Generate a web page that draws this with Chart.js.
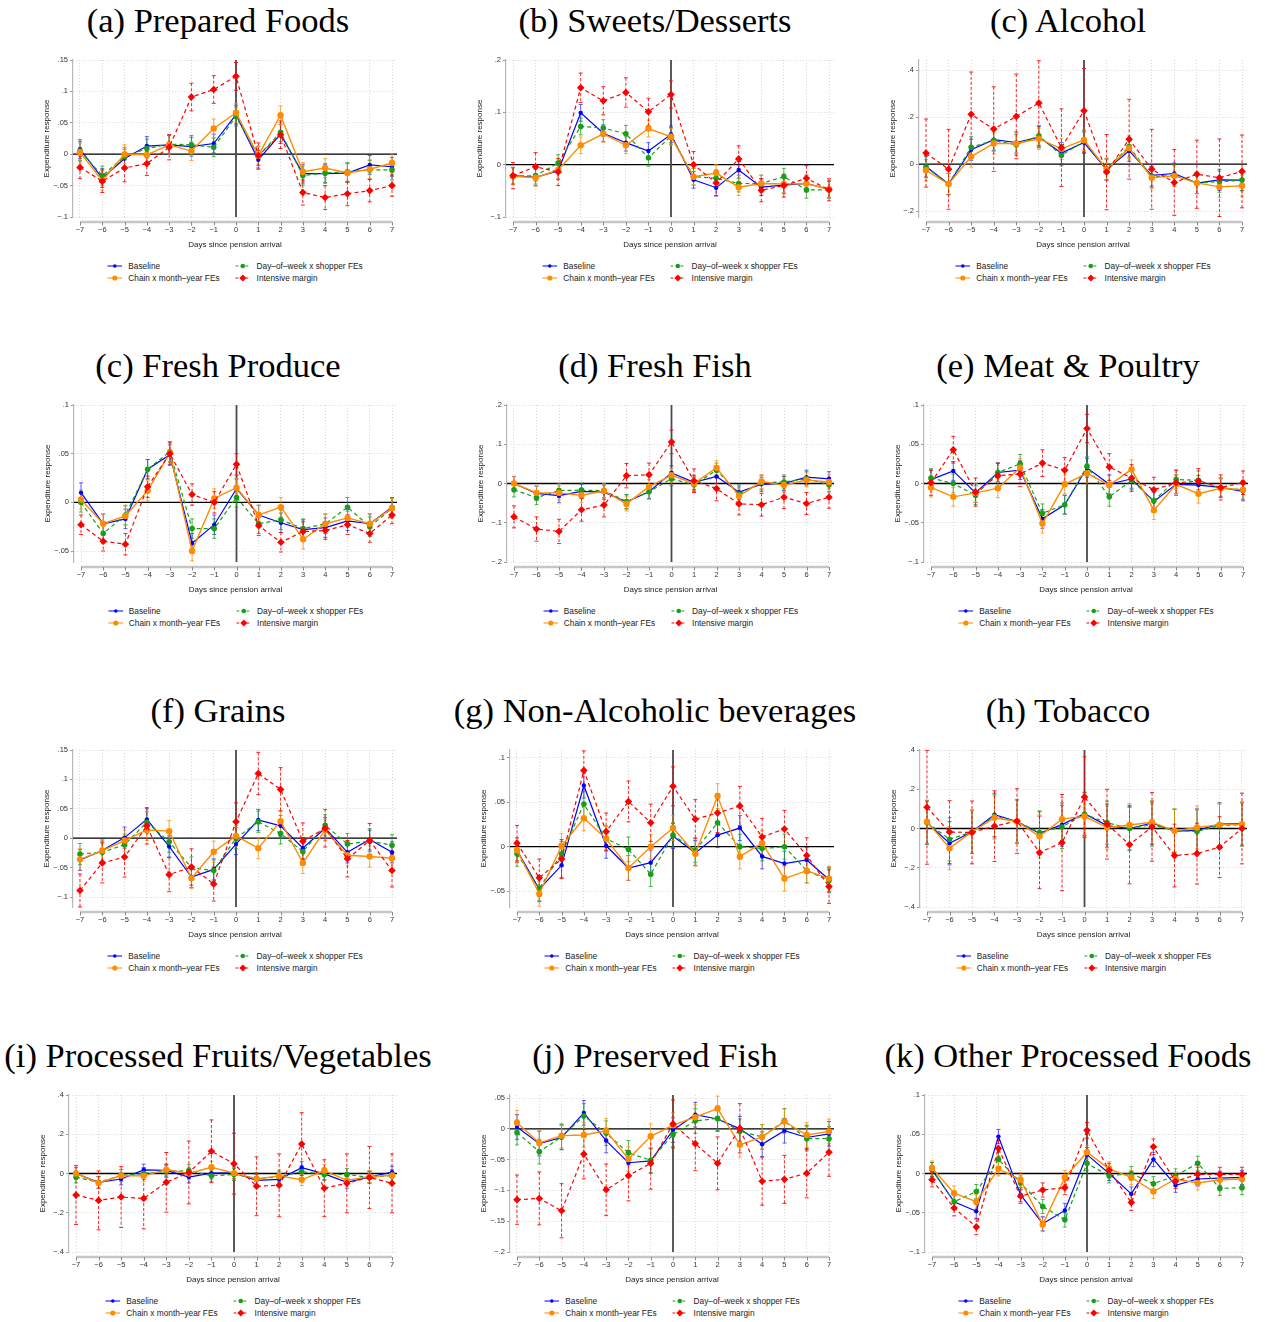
<!DOCTYPE html>
<html>
<head>
<meta charset="utf-8">
<script src="https://cdn.jsdelivr.net/npm/chart.js@4"></script>
<style>
  body { margin: 0; background: #fff; width: 1265px; height: 1322px; position: relative; overflow: hidden;
         font-family: "Liberation Sans", Arial, Helvetica, sans-serif; }
  .ttl { position: absolute; font-family: "Liberation Serif", "Times New Roman", serif; font-size: 34.5px;
         line-height: 38px; white-space: nowrap; transform: translateX(-50%); color: #000; }
  canvas { position: absolute; }
  .leg { position: absolute; font-size: 8.3px; color: #222; display: grid; grid-template-columns: auto auto;
         column-gap: 16px; row-gap: 0; transform: translateX(-50%); }
  .leg span { display: flex; align-items: center; white-space: nowrap; height: 12px; }
  .leg svg { margin-right: 6px; }
</style>
</head>
<body>
<script>
// x positions (days since arrival)
const days = [-7, -6, -5, -4, -3, -2, -1, 0, 1, 2, 3, 4, 5, 6, 7];
const seriesNames = ['Baseline', 'Day\u2013of\u2013week x shopper FEs', 'Chain x month\u2013year FEs', 'Intensive margin'];

// (a) Prepared Foods
const prepBase  = [0.008,-0.038,-0.007,0.013,0.015,0.012,0.017,0.063,-0.009,0.032,-0.031,-0.031,-0.030,-0.017,-0.020];
const prepDow   = [0.005,-0.034,-0.004,0.009,0.016,0.015,0.011,0.060,-0.003,0.035,-0.034,-0.030,-0.028,-0.025,-0.025];
const prepChain = [0.003,-0.042,0.000,-0.001,0.015,0.005,0.041,0.066,-0.002,0.062,-0.028,-0.022,-0.030,-0.024,-0.014];
const prepInt   = [-0.021,-0.043,-0.022,-0.015,0.011,0.091,0.103,0.124,-0.002,0.031,-0.061,-0.069,-0.063,-0.058,-0.050];
const prepIntErr = [0.018,0.018,0.022,0.019,0.020,0.022,0.022,0.022,0.020,0.022,0.020,0.019,0.019,0.018,0.017];

// (b) Sweets/Desserts
const sweetBase  = [-0.021,-0.024,-0.012,0.099,0.060,0.042,0.026,0.058,-0.029,-0.044,-0.010,-0.043,-0.039,-0.036,-0.047];
const sweetDow   = [-0.022,-0.021,0.003,0.073,0.070,0.059,0.013,0.055,-0.023,-0.026,-0.036,-0.036,-0.023,-0.048,-0.048];
const sweetChain = [-0.022,-0.025,-0.010,0.037,0.059,0.037,0.069,0.053,-0.023,-0.016,-0.043,-0.036,-0.037,-0.036,-0.047];
const sweetInt   = [-0.021,-0.004,-0.014,0.147,0.122,0.138,0.101,0.134,0.000,-0.035,0.011,-0.049,-0.040,-0.026,-0.048];
const sweetIntErr = [0.025,0.027,0.026,0.028,0.027,0.028,0.026,0.026,0.025,0.024,0.025,0.022,0.022,0.024,0.021];

// (c) Alcohol
const alcBase  = [-0.010,-0.085,0.061,0.104,0.092,0.115,0.047,0.092,-0.024,0.057,-0.048,-0.040,-0.081,-0.067,-0.068];
const alcDow   = [-0.013,-0.085,0.072,0.100,0.082,0.120,0.038,0.097,-0.020,0.075,-0.055,-0.048,-0.080,-0.075,-0.068];
const alcChain = [-0.026,-0.085,0.032,0.088,0.088,0.108,0.065,0.103,-0.023,0.068,-0.058,-0.050,-0.080,-0.097,-0.092];
const alcInt   = [0.047,-0.022,0.212,0.149,0.203,0.260,0.070,0.227,-0.034,0.106,-0.022,-0.078,-0.043,-0.058,-0.031];
const alcIntErr = [0.145,0.170,0.180,0.180,0.180,0.180,0.165,0.180,0.160,0.170,0.170,0.140,0.145,0.165,0.155];

// (c) Fresh Produce
const prodBase  = [0.010,-0.022,-0.017,0.034,0.049,-0.042,-0.023,0.014,-0.013,-0.021,-0.028,-0.026,-0.019,-0.022,-0.005];
const prodDow   = [0.000,-0.032,-0.013,0.034,0.052,-0.027,-0.027,0.005,-0.022,-0.018,-0.027,-0.022,-0.005,-0.025,-0.006];
const prodChain = [0.003,-0.022,-0.014,0.012,0.051,-0.050,0.004,0.015,-0.013,-0.005,-0.038,-0.022,-0.016,-0.022,-0.006];
const prodInt   = [-0.023,-0.040,-0.043,0.016,0.050,0.008,0.000,0.039,-0.024,-0.041,-0.030,-0.029,-0.023,-0.032,-0.013];
const prodIntErr = [0.010,0.010,0.011,0.011,0.012,0.011,0.011,0.011,0.010,0.010,0.010,0.009,0.010,0.009,0.009];

// (d) Fresh Fish
const fishBase  = [0.000,-0.025,-0.031,-0.020,-0.022,-0.047,-0.021,0.027,0.003,0.018,-0.022,-0.002,0.000,0.016,0.012];
const fishDow   = [-0.016,-0.036,-0.018,-0.017,-0.018,-0.046,-0.021,0.012,-0.003,0.034,-0.027,0.002,0.004,0.012,-0.003];
const fishChain = [0.000,-0.024,-0.024,-0.030,-0.019,-0.052,-0.008,0.021,0.000,0.040,-0.032,0.005,-0.004,0.009,0.004];
const fishInt   = [-0.085,-0.116,-0.122,-0.067,-0.055,0.020,0.022,0.106,0.007,-0.013,-0.052,-0.054,-0.035,-0.051,-0.035];
const fishIntErr = [0.028,0.031,0.031,0.029,0.030,0.031,0.030,0.030,0.030,0.031,0.028,0.029,0.029,0.028,0.028];

// (e) Meat & Poultry
const meatBase  = [0.005,0.016,-0.012,0.014,0.017,-0.045,-0.027,0.020,-0.001,0.006,-0.023,-0.001,-0.002,-0.005,-0.010];
const meatDow   = [0.007,0.000,-0.015,0.014,0.025,-0.038,-0.027,0.022,-0.017,0.004,-0.022,0.005,0.004,-0.006,-0.008];
const meatChain = [-0.005,-0.017,-0.012,-0.006,0.020,-0.051,-0.001,0.013,-0.002,0.018,-0.034,-0.001,-0.013,-0.006,-0.008];
const meatInt   = [0.001,0.043,-0.011,0.010,0.012,0.026,0.017,0.070,0.021,0.007,-0.008,0.001,0.003,-0.005,0.001];
const meatIntErr = [0.016,0.017,0.018,0.016,0.016,0.017,0.016,0.018,0.017,0.017,0.016,0.016,0.016,0.016,0.015];

// (f) Grains
const grainBase  = [-0.037,-0.021,0.001,0.032,-0.014,-0.066,-0.053,-0.010,0.031,0.021,-0.017,0.017,-0.024,-0.002,-0.024];
const grainDow   = [-0.027,-0.024,-0.011,0.027,-0.006,-0.050,-0.055,0.000,0.028,0.008,-0.023,0.022,-0.010,-0.005,-0.012];
const grainChain = [-0.036,-0.021,-0.004,0.014,0.012,-0.068,-0.023,0.004,-0.017,0.029,-0.042,0.014,-0.029,-0.031,-0.034];
const grainInt   = [-0.089,-0.042,-0.032,0.021,-0.062,-0.049,-0.078,0.028,0.110,0.083,-0.005,0.017,-0.035,-0.004,-0.055];
const grainIntErr = [0.028,0.034,0.034,0.031,0.029,0.031,0.029,0.032,0.036,0.037,0.031,0.032,0.031,0.029,0.028];

// (g) Non-Alcoholic beverages
const bevBase  = [-0.004,-0.048,-0.021,0.069,0.001,-0.024,-0.018,0.012,-0.007,0.013,0.021,-0.011,-0.019,-0.015,-0.037];
const bevDow   = [-0.008,-0.047,-0.008,0.048,0.009,-0.003,-0.031,0.013,-0.004,0.027,0.000,-0.002,0.000,-0.027,-0.038];
const bevChain = [-0.004,-0.053,0.001,0.032,0.009,-0.024,0.000,0.021,-0.008,0.057,-0.011,0.004,-0.036,-0.027,-0.036];
const bevInt   = [0.004,-0.035,-0.014,0.086,0.017,0.051,0.027,0.068,0.031,0.038,0.046,0.011,0.020,-0.010,-0.045];
const bevIntErr = [0.020,0.021,0.022,0.022,0.021,0.023,0.021,0.022,0.022,0.022,0.022,0.021,0.021,0.020,0.019];

// (h) Tobacco
const tobBase  = [0.030,-0.075,-0.017,0.070,0.036,-0.025,0.020,0.075,0.015,0.000,0.028,-0.013,-0.010,0.022,0.025];
const tobDow   = [0.030,-0.055,-0.017,0.062,0.036,-0.020,0.008,0.072,0.030,0.000,0.020,-0.010,-0.015,0.015,0.020];
const tobChain = [0.035,-0.100,-0.017,0.055,0.036,-0.040,0.048,0.062,0.005,0.018,0.032,-0.012,0.005,0.020,0.022];
const tobInt   = [0.108,-0.018,-0.020,0.012,0.038,-0.122,-0.072,0.160,0.022,-0.082,0.008,-0.138,-0.128,-0.095,0.000];
const tobIntErr = [0.290,0.160,0.160,0.180,0.165,0.185,0.245,0.205,0.178,0.200,0.175,0.160,0.155,0.155,0.180];

// (i) Processed Fruits/Vegetables
const pfvBase  = [0.000,-0.045,-0.028,0.018,0.016,-0.018,0.002,0.003,-0.035,-0.030,0.030,-0.002,-0.045,-0.018,0.007];
const pfvDow   = [-0.018,-0.045,-0.010,0.000,0.010,0.015,-0.012,-0.005,-0.025,-0.018,0.010,-0.005,-0.005,-0.020,-0.010];
const pfvChain = [0.000,-0.048,-0.010,-0.012,0.020,0.000,0.032,0.002,-0.028,-0.012,-0.032,0.015,-0.035,-0.015,-0.010];
const pfvInt   = [-0.110,-0.137,-0.120,-0.127,-0.045,0.005,0.113,0.050,-0.065,-0.060,0.150,-0.075,-0.050,-0.020,-0.050];
const pfvIntErr = [0.150,0.150,0.155,0.155,0.152,0.160,0.160,0.155,0.150,0.160,0.160,0.145,0.150,0.158,0.150];

// (j) Preserved Fish
const pfBase  = [0.003,-0.024,-0.014,0.026,-0.019,-0.055,-0.052,-0.002,0.023,0.016,0.000,-0.025,-0.003,-0.014,-0.008];
const pfDow   = [-0.006,-0.037,-0.013,0.021,-0.007,-0.039,-0.051,-0.009,0.013,0.017,-0.004,-0.013,0.013,-0.016,-0.016];
const pfChain = [0.010,-0.023,-0.011,-0.010,-0.003,-0.049,-0.012,0.006,0.019,0.033,-0.026,-0.013,0.012,-0.010,-0.004];
const pfInt   = [-0.115,-0.113,-0.133,-0.041,-0.099,-0.076,-0.056,0.008,-0.024,-0.056,0.001,-0.085,-0.082,-0.072,-0.038];
const pfIntErr = [0.040,0.043,0.044,0.040,0.042,0.041,0.042,0.039,0.044,0.043,0.040,0.039,0.039,0.040,0.039];

// (k) Other Processed Foods
const opBase  = [0.005,-0.036,-0.048,0.047,-0.027,-0.064,-0.047,0.024,0.000,-0.026,0.018,-0.015,-0.007,-0.006,-0.005];
const opDow   = [0.005,-0.036,-0.023,0.018,-0.012,-0.042,-0.059,0.013,-0.003,0.000,-0.013,-0.003,0.013,-0.019,-0.018];
const opChain = [0.007,-0.025,-0.036,0.006,-0.008,-0.065,-0.005,0.027,0.006,-0.005,-0.023,-0.007,-0.012,-0.008,-0.007];
const opInt   = [-0.008,-0.044,-0.068,0.032,-0.029,-0.021,-0.018,0.055,0.004,-0.037,0.034,-0.010,-0.001,-0.001,-0.001];
const opIntErr = [0.009,0.010,0.010,0.010,0.009,0.009,0.009,0.010,0.009,0.010,0.010,0.009,0.009,0.009,0.009];

// typical CI half-width of the three other specifications, one per panel
const otherErr = [0.015, 0.016, 0.045, 0.010, 0.018, 0.012, 0.018, 0.014, 0.110, 0.030, 0.020, 0.009];

// y tick labels
const ticksA = [-0.1, -0.05, 0, 0.05, 0.1, 0.15];
const ticksB = [-0.1, 0, 0.1, 0.2];
const ticksC = [-0.2, 0, 0.2, 0.4];
const ticksD = [-0.05, 0, 0.05, 0.1];
const ticksE = [-0.2, -0.1, 0, 0.1, 0.2];
const ticksF = [-0.1, -0.05, 0, 0.05, 0.1];
const ticksG = [-0.4, -0.2, 0, 0.2, 0.4];
const ticksH = [-0.2, -0.15, -0.1, -0.05, 0, 0.05];

const panels = [
  { title: '(a) Prepared Foods', s: [prepBase, prepDow, prepChain, prepInt], ie: prepIntErr, yr: [-0.1, 0.15], ticks: ticksA },
  { title: '(b) Sweets/Desserts', s: [sweetBase, sweetDow, sweetChain, sweetInt], ie: sweetIntErr, yr: [-0.1, 0.2], ticks: ticksB },
  { title: '(c) Alcohol', s: [alcBase, alcDow, alcChain, alcInt], ie: alcIntErr, yr: [-0.225, 0.443], ticks: ticksC },
  { title: '(c) Fresh Produce', s: [prodBase, prodDow, prodChain, prodInt], ie: prodIntErr, yr: [-0.0613, 0.1], ticks: ticksD },
  { title: '(d) Fresh Fish', s: [fishBase, fishDow, fishChain, fishInt], ie: fishIntErr, yr: [-0.2, 0.2], ticks: ticksE },
  { title: '(e) Meat & Poultry', s: [meatBase, meatDow, meatChain, meatInt], ie: meatIntErr, yr: [-0.1, 0.1], ticks: ticksF },
  { title: '(f) Grains', s: [grainBase, grainDow, grainChain, grainInt], ie: grainIntErr, yr: [-0.117, 0.15], ticks: ticksA },
  { title: '(g) Non-Alcoholic beverages', s: [bevBase, bevDow, bevChain, bevInt], ie: bevIntErr, yr: [-0.068, 0.109], ticks: ticksD },
  { title: '(h) Tobacco', s: [tobBase, tobDow, tobChain, tobInt], ie: tobIntErr, yr: [-0.4, 0.4], ticks: ticksG },
  { title: '(i) Processed Fruits/Vegetables', s: [pfvBase, pfvDow, pfvChain, pfvInt], ie: pfvIntErr, yr: [-0.4, 0.4], ticks: ticksG },
  { title: '(j) Preserved Fish', s: [pfBase, pfDow, pfChain, pfInt], ie: pfIntErr, yr: [-0.2, 0.055], ticks: ticksH },
  { title: '(k) Other Processed Foods', s: [opBase, opDow, opChain, opInt], ie: opIntErr, yr: [-0.1, 0.1], ticks: ticksF }
];

// pixel positions of day -7 and day 7 in each panel
const xSpan = [[80, 392], [513, 829], [926, 1242], [81, 392], [514, 829], [931, 1243],
               [80, 392], [517, 829], [927, 1242], [76, 392], [517, 829], [932, 1242]];
const titleCenter = [218, 655, 1068];

const styles = [
  { color: '#0000ff', err: 'rgba(40,40,255,0.75)', dash: [], width: 1.2, r: 2.2, shape: 'circle', order: 3 },
  { color: '#17a017', err: 'rgba(23,160,23,0.75)', dash: [4, 3], width: 1.2, r: 2.8, shape: 'circle', order: 2 },
  { color: '#ff8c00', err: 'rgba(255,140,0,0.75)', dash: [], width: 1.4, r: 3.2, shape: 'circle', order: 1 },
  { color: '#ff0000', err: 'rgba(255,0,0,0.85)', dash: [4, 3], width: 1.2, r: 3.8, shape: 'rectRot', order: 0 }
];

Chart.defaults.font.family = '"Liberation Sans", Arial, Helvetica, sans-serif';

const fmtY = v => {
  if (Math.abs(v) < 1e-9) return '0';
  return (v < 0 ? '\u2212' : '') + String(Math.abs(v)).replace(/^0/, '');
};
const fmtX = v => (v < 0 ? '\u2212' + (-v) : String(v));

const stataPlot = {
  id: 'stataPlot',
  beforeDatasetsDraw(chart) {
    const { ctx, chartArea: a, scales: { x, y } } = chart;
    ctx.save();
    // x axis bar below the plot region
    const xl = x.getPixelForValue(days[0]), xr = x.getPixelForValue(days[days.length - 1]);
    const ya = a.bottom + 5;
    ctx.strokeStyle = '#c6c6c6'; ctx.lineWidth = 2.5;
    ctx.beginPath(); ctx.moveTo(xl, ya); ctx.lineTo(xr, ya); ctx.stroke();
    ctx.strokeStyle = '#888'; ctx.lineWidth = 1;
    days.forEach(d => {
      const px = Math.round(x.getPixelForValue(d)) + 0.5;
      ctx.beginPath(); ctx.moveTo(px, ya); ctx.lineTo(px, ya + 3.5); ctx.stroke();
    });
    // reference lines at zero
    const y0 = y.getPixelForValue(0), x0 = x.getPixelForValue(0);
    ctx.strokeStyle = '#000'; ctx.lineWidth = 1.3;
    ctx.beginPath(); ctx.moveTo(a.left, y0); ctx.lineTo(a.right, y0); ctx.stroke();
    ctx.strokeStyle = '#4a4a4a'; ctx.lineWidth = 1.8;
    ctx.beginPath(); ctx.moveTo(x0, a.top); ctx.lineTo(x0, a.bottom); ctx.stroke();
    // confidence intervals
    ctx.beginPath(); ctx.rect(a.left, a.top - 2, a.right - a.left, a.bottom - a.top + 4); ctx.clip();
    chart.data.datasets.forEach((ds, i) => {
      const meta = chart.getDatasetMeta(i);
      ctx.strokeStyle = ds.errColor; ctx.lineWidth = 1;
      meta.data.forEach((pt, j) => {
        const v = ds.data[j].y;
        const e = Array.isArray(ds.errs) ? ds.errs[j] : ds.errs;
        const t = y.getPixelForValue(v + e), b = y.getPixelForValue(v - e);
        ctx.setLineDash(ds.errDash);
        ctx.beginPath(); ctx.moveTo(pt.x, t); ctx.lineTo(pt.x, b); ctx.stroke();
        ctx.setLineDash([]);
        ctx.beginPath();
        ctx.moveTo(pt.x - 2, t); ctx.lineTo(pt.x + 2, t);
        ctx.moveTo(pt.x - 2, b); ctx.lineTo(pt.x + 2, b);
        ctx.stroke();
      });
    });
    ctx.restore();
  }
};

function legendSwatch(st) {
  const dash = st.dash.length ? ' stroke-dasharray="3,2"' : '';
  const mark = st.shape === 'rectRot'
    ? '<polygon points="7.5,0.5 11,4 7.5,7.5 4,4" fill="' + st.color + '"/>'
    : '<circle cx="7.5" cy="4" r="' + (st.r * 0.8) + '" fill="' + st.color + '"/>';
  return '<svg width="15" height="8"><line x1="0" y1="4" x2="15" y2="4" stroke="' + st.color +
    '" stroke-width="1.2"' + dash + '/>' + mark + '</svg>';
}

panels.forEach((p, k) => {
  const row = Math.floor(k / 3), col = k % 3;
  const [xa, xb] = xSpan[k];
  const u = (xb - xa) / 14;
  const areaLeft = xa - 7, areaRight = xb + 5;
  const yAxisW = 45, padTop = 8, padRight = 4, xAxisH = 40, plotH = 157;
  const left = areaLeft - yAxisW;
  const top = 60 + 345 * row - padTop;
  const width = areaRight - left + padRight;
  const height = padTop + plotH + xAxisH;

  const t = document.createElement('div');
  t.className = 'ttl';
  t.textContent = p.title;
  t.style.left = titleCenter[col] + 'px';
  t.style.top = (1 + 345 * row) + 'px';
  document.body.appendChild(t);

  const cv = document.createElement('canvas');
  cv.width = width; cv.height = height;
  cv.style.left = left + 'px'; cv.style.top = top + 'px';
  cv.style.width = width + 'px'; cv.style.height = height + 'px';
  document.body.appendChild(cv);

  const lg = document.createElement('div');
  lg.className = 'leg';
  lg.style.left = ((areaLeft + areaRight) / 2) + 'px';
  lg.style.top = (260 + 345 * row) + 'px';
  lg.innerHTML = seriesNames.map((n, i) => '<span>' + legendSwatch(styles[i]) + n + '</span>').join('');
  document.body.appendChild(lg);

  const datasets = p.s.map((arr, i) => ({
    label: seriesNames[i],
    data: days.map((d, j) => ({ x: d, y: arr[j] })),
    borderColor: styles[i].color,
    backgroundColor: styles[i].color,
    borderWidth: styles[i].width,
    borderDash: styles[i].dash,
    pointStyle: styles[i].shape,
    pointRadius: styles[i].r,
    pointBorderWidth: 0,
    order: styles[i].order,
    errs: i === 3 ? p.ie : otherErr[k],
    errColor: styles[i].err,
    errDash: i === 3 ? [3, 2] : [],
    clip: 6
  }));

  new Chart(cv, {
    type: 'line',
    data: { datasets },
    plugins: [stataPlot],
    options: {
      responsive: false,
      animation: false,
      devicePixelRatio: 1,
      layout: { padding: { top: padTop, right: padRight, left: 0, bottom: 0 } },
      plugins: { legend: { display: false }, tooltip: { enabled: false } },
      scales: {
        x: {
          type: 'linear',
          min: -7 - 7 / u,
          max: 7 + 5 / u,
          afterBuildTicks: s => { s.ticks = days.map(v => ({ value: v })); },
          afterFit: s => { s.height = xAxisH; },
          grid: { color: '#d8d8d8', lineWidth: 1, drawTicks: true, tickLength: 8, tickColor: 'rgba(0,0,0,0)', tickBorderDash: [] },
          border: { display: false, dash: [1, 2] },
          ticks: { padding: 0, font: { size: 7.5 }, color: '#333', maxRotation: 0, autoSkip: false, callback: fmtX },
          title: { display: true, text: 'Days since pension arrival', font: { size: 8 }, color: '#222', padding: { top: 7, bottom: 7 } }
        },
        y: {
          min: p.yr[0],
          max: p.yr[1],
          afterBuildTicks: s => { s.ticks = p.ticks.map(v => ({ value: v })); },
          afterFit: s => { s.width = yAxisW; },
          grid: { color: '#d8d8d8', lineWidth: 1, tickLength: 3, tickColor: '#999', tickBorderDash: [] },
          border: { display: true, color: '#b8b8b8', width: 1.2, dash: [1, 2] },
          ticks: { padding: 2, font: { size: 7.5 }, color: '#333', autoSkip: false, callback: fmtY },
          title: { display: true, text: 'Expenditure response', font: { size: 8 }, color: '#222', padding: { top: 14, bottom: 0 } }
        }
      }
    }
  });
});
</script>
</body>
</html>
